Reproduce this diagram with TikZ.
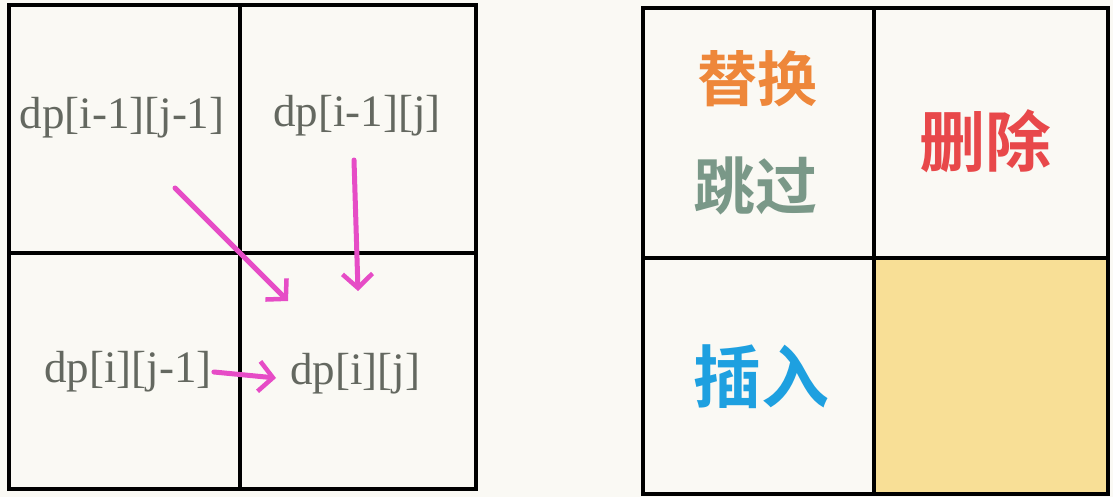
\documentclass[tikz,border=0pt]{standalone}
\usepackage{fontspec}
\setmainfont{Liberation Serif}
\newfontfamily\cjk{Noto Sans CJK SC Bold}
\usetikzlibrary{arrows.meta}
\definecolor{bg}{RGB}{250,249,244}
\definecolor{dptext}{RGB}{100,104,96}
\definecolor{arrowpink}{RGB}{230,76,198}
\definecolor{orangeT}{RGB}{238,135,58}
\definecolor{greenT}{RGB}{122,152,136}
\definecolor{redT}{RGB}{232,72,74}
\definecolor{blueT}{RGB}{30,160,224}
\definecolor{yellowF}{RGB}{248,223,150}
\tikzset{
  gridline/.style={line width=4pt, black},
  dplabel/.style={font=\fontsize{45}{48}\selectfont, text=dptext, inner sep=0pt},
  cjklabel/.style={font=\cjk\fontsize{60}{64}\selectfont, inner sep=0pt},
  pinkarrow/.style={line width=5pt, arrowpink, line cap=round, -{Straight Barb[length=14pt,width=30pt,line width=4.5pt]}}
}
\begin{document}
\begin{tikzpicture}[x=1pt,y=-1pt]
\useasboundingbox (0,0) rectangle (1113,497);
\fill[bg] (0,0) rectangle (1113,497);
% left grid
\draw[gridline] (9,5) rectangle (476,489);
\draw[gridline] (240,5) -- (240,489);
\draw[gridline] (9,253) -- (476,253);
% right grid
\fill[yellowF] (874,258) rectangle (1108,494);
\draw[gridline] (643,8) rectangle (1108,494);
\draw[gridline] (874,8) -- (874,494);
\draw[gridline] (643,258) -- (1108,258);
% labels left
\node[dplabel] (a) at (122,118) {dp[i-1][j-1]};
\node[dplabel] (b) at (357,116) {dp[i-1][j]};
\node[dplabel] (c) at (128,372) {dp[i][j-1]};
\node[dplabel] (d) at (355,374) {dp[i][j]};
% arrows
\coordinate (a1) at (175,188);
\coordinate (a2) at (288,301);
\coordinate (b1) at (354,160);
\coordinate (b2) at (358,291);
\coordinate (c1) at (c.east);
\coordinate (c2) at (276,378);
\draw[pinkarrow] (a1) -- (a2);
\draw[pinkarrow] (b1) -- (b2);
\draw[pinkarrow] ([xshift=2pt]c1) -- (c2);
% labels right
\node[cjklabel, text=orangeT] (t1) at (757,79) {替换};
\node[cjklabel, text=greenT, font=\cjk\fontsize{62}{66}\selectfont] (t2) at (755,186) {跳过};
\node[cjklabel, text=redT, font=\cjk\fontsize{66}{70}\selectfont] (t3) at (985,141) {删除};
\node[cjklabel, text=blueT, font=\cjk\fontsize{68}{72}\selectfont] (t4) at (761,377) {插入};
\end{tikzpicture}
\end{document}
